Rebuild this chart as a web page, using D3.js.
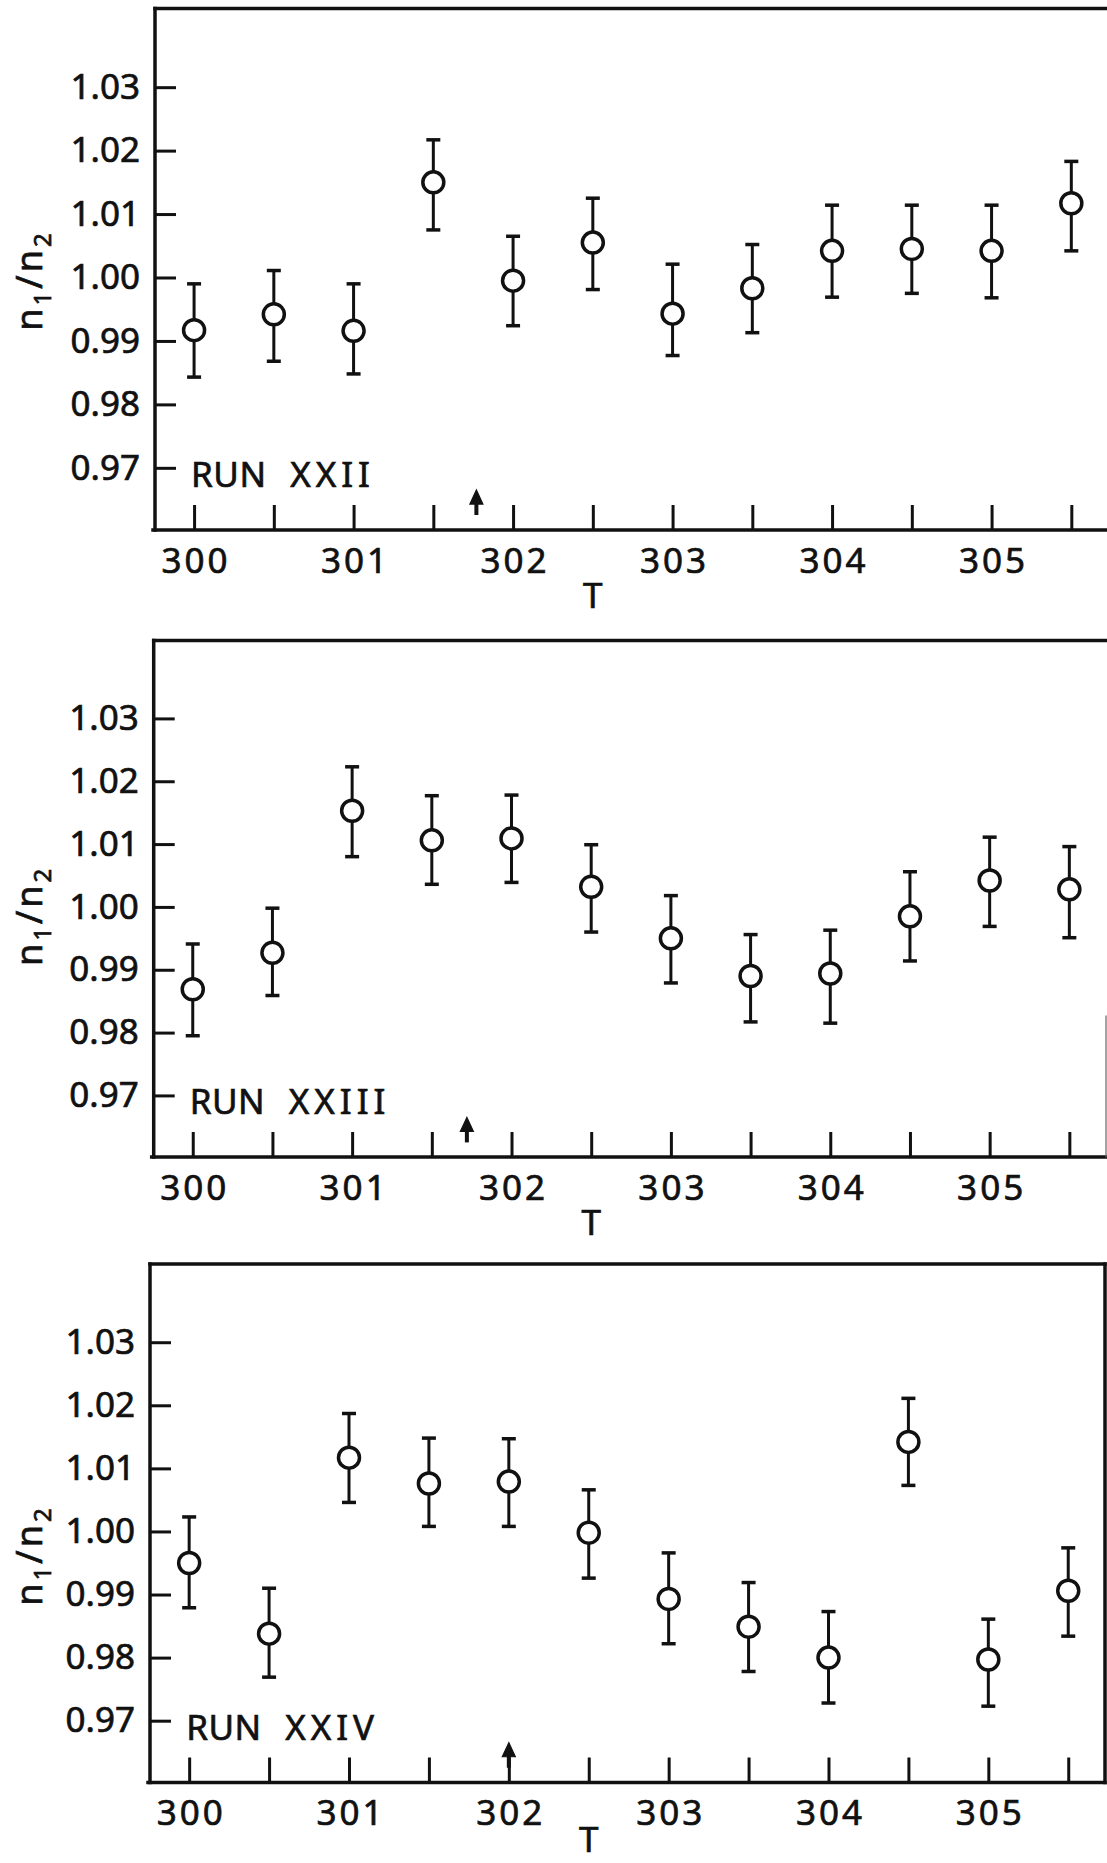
<!DOCTYPE html>
<html>
<head>
<meta charset="utf-8">
<script src="https://cdn.jsdelivr.net/npm/d3@7"></script>
<style>
  html, body { margin: 0; padding: 0; background: #fff; }
  svg { display: block; }
  text { font-family: "Noto Sans", "DejaVu Sans", sans-serif; fill: #111; stroke: #111; stroke-width: 0.7px; }
</style>
</head>
<body>
<svg id="chart" width="1107" height="1863"></svg>
<script>
// Temperatures at which n1/n2 was measured (every 0.5 K)
const temps = [300, 300.5, 301, 301.5, 302, 302.5, 303, 303.5, 304, 304.5, 305, 305.5];
const tLabels = [300, 301, 302, 303, 304, 305];
const ratioTicks = [0.97, 0.98, 0.99, 1.00, 1.01, 1.02, 1.03];
const ratioDomain = [0.9602, 1.0424];
const tDomain = [299.755, 305.73];

const runNames = ["RUN XXII", "RUN XXIII", "RUN XXIV"];
// Temperature marked with an arrow in each run
const markerT = [301.77, 301.72, 302.0];

// RUN XXII
const run22Ratio = [0.9917, 0.9942, 0.9916, 1.0150, 0.9995, 1.0055, 0.9943, 0.9983, 1.0042, 1.0045, 1.0042, 1.0117];
const run22Low   = [0.9843, 0.9868, 0.9848, 1.0075, 0.9924, 0.9981, 0.9877, 0.9913, 0.9969, 0.9975, 0.9968, 1.0042];
const run22High  = [0.9990, 1.0011, 0.9990, 1.0217, 1.0065, 1.0125, 1.0021, 1.0052, 1.0114, 1.0114, 1.0114, 1.0183];

// RUN XXIII
const run23Ratio = [0.9869, 0.9927, 1.0153, 1.0106, 1.0109, 1.0032, 0.9950, 0.9890, 0.9894, 0.9985, 1.0042, 1.0028];
const run23Low   = [0.9795, 0.9859, 1.0080, 1.0036, 1.0039, 0.9960, 0.9879, 0.9817, 0.9815, 0.9914, 0.9969, 0.9951];
const run23High  = [0.9941, 0.9998, 1.0223, 1.0177, 1.0178, 1.0099, 1.0018, 0.9956, 0.9963, 1.0056, 1.0111, 1.0096];

// RUN XXIV
const run24Ratio = [0.9950, 0.9838, 1.0117, 1.0076, 1.0079, 0.9998, 0.9893, 0.9849, 0.9800, 1.0142, 0.9797, 0.9906];
const run24Low   = [0.9879, 0.9769, 1.0046, 1.0008, 1.0008, 0.9926, 0.9822, 0.9778, 0.9728, 1.0073, 0.9723, 0.9834];
const run24High  = [1.0023, 0.9910, 1.0187, 1.0148, 1.0147, 1.0066, 0.9966, 0.9919, 0.9873, 1.0211, 0.9861, 0.9974];

const runs = [
  { ratio: run22Ratio, low: run22Low, high: run22High },
  { ratio: run23Ratio, low: run23Low, high: run23High },
  { ratio: run24Ratio, low: run24Low, high: run24High }
];

// Frame geometry of the three stacked panels
const panels = [
  { left: 155,   right: 1108, top: 8.5,   bottom: 530,    rightBorder: null,         labelShift: 3 },
  { left: 153.7, right: 1106, top: 640.5, bottom: 1157,   rightBorder: [1016, 1157], labelShift: 9 },
  { left: 150,   right: 1105, top: 1264,  bottom: 1782.5, rightBorder: "full",       labelShift: 24 }
];

const WIDTH = 1107, HEIGHT = 1863;
const INK = "#111";
const FONT = 35;
const FAMILY = "Noto Sans, DejaVu Sans, sans-serif";
const svg = d3.select("#chart");

panels.forEach((p, i) => {
  const run = runs[i];
  const x = d3.scaleLinear().domain(tDomain).range([p.left, p.right]);
  const y = d3.scaleLinear().domain(ratioDomain).range([p.bottom, p.top]);
  const g = svg.append("g");

  // y axis: inward ticks, labels on the left
  const yAxis = d3.axisLeft(y)
    .tickValues(ratioTicks)
    .tickSize(-21)
    .tickSizeOuter(0)
    .tickPadding(15)
    .tickFormat(d3.format(".2f"));
  const gy = g.append("g")
    .attr("transform", `translate(${p.left},0)`)
    .call(yAxis);
  gy.select(".domain").remove();
  gy.selectAll(".tick line").attr("stroke", INK).attr("stroke-width", 3);
  gy.selectAll(".tick text")
    .attr("font-size", FONT)
    .attr("font-family", FAMILY)
    .attr("fill", INK);

  // x axis: inward ticks at every half kelvin, labels at whole kelvins
  const xAxis = d3.axisBottom(x)
    .tickValues(temps)
    .tickSize(-25)
    .tickSizeOuter(0)
    .tickPadding(18)
    .tickFormat(d => Number.isInteger(d) ? String(d) : "");
  const gx = g.append("g")
    .attr("transform", `translate(0,${p.bottom})`)
    .call(xAxis);
  gx.select(".domain").remove();
  gx.selectAll(".tick line").attr("stroke", INK).attr("stroke-width", 3);
  gx.selectAll(".tick text")
    .attr("font-size", FONT)
    .attr("font-family", FAMILY)
    .attr("letter-spacing", 3)
    .attr("dx", 1.5)
    .attr("fill", INK);

  // frame lines
  const frame = g.append("g")
    .attr("stroke", INK)
    .attr("stroke-width", 3.5)
    .attr("stroke-linecap", "square")
    .attr("fill", "none");
  frame.append("line").attr("x1", p.left).attr("x2", p.left).attr("y1", p.top).attr("y2", p.bottom);
  frame.append("line").attr("x1", p.left - 2).attr("x2", p.right).attr("y1", p.bottom).attr("y2", p.bottom);
  frame.append("line").attr("x1", p.left).attr("x2", p.right).attr("y1", p.top).attr("y2", p.top);
  if (p.rightBorder === "full") {
    frame.append("line").attr("x1", p.right).attr("x2", p.right).attr("y1", p.top).attr("y2", p.bottom);
  } else if (p.rightBorder) {
    frame.append("line").attr("x1", p.right).attr("x2", p.right)
      .attr("y1", p.rightBorder[0]).attr("y2", p.rightBorder[1])
      .attr("stroke", "#666")
      .attr("stroke-width", 1.2);
  }

  // axis titles
  const yl = g.append("text")
    .attr("transform", `translate(42,${y(1.0) + p.labelShift}) rotate(-90)`)
    .attr("text-anchor", "middle")
    .attr("font-size", 36)
    .attr("letter-spacing", 3);
  yl.append("tspan").text("n");
  yl.append("tspan").attr("font-size", 24).attr("dy", 9).text("1");
  yl.append("tspan").attr("dy", -9).text("/");
  yl.append("tspan").text("n");
  yl.append("tspan").attr("font-size", 24).attr("dy", 9).text("2");

  // T title, kept inside the page at the bottom panel
  g.append("text")
    .attr("x", x(302.5))
    .attr("y", Math.min(p.bottom + 78, HEIGHT - 11))
    .attr("text-anchor", "middle")
    .attr("font-size", FONT)
    .text("T");

  // run name
  const [word, numeral] = runNames[i].split(" ");
  const rn = g.append("text")
    .attr("x", x(300) - 3)
    .attr("y", y(0.97) + 19)
    .attr("font-size", FONT);
  rn.append("tspan").attr("letter-spacing", 0.5).text(word + " ");
  rn.append("tspan").attr("dx", 14).attr("letter-spacing", 5).text(numeral);

  // arrow marking the transition temperature
  const ax = x(markerT[i]);
  const tipY = y(0.9665);
  const arrow = g.append("g").attr("fill", INK).attr("stroke", INK);
  arrow.append("line")
    .attr("x1", ax).attr("x2", ax)
    .attr("y1", tipY + 10).attr("y2", tipY + 25)
    .attr("stroke-width", 4);
  arrow.append("path")
    .attr("d", `M${ax},${tipY} L${ax - 6.5},${tipY + 14} L${ax + 6.5},${tipY + 14} Z`)
    .attr("stroke-width", 1.2);

  // error bars
  const pts = temps.map((t, k) => ({ t, r: run.ratio[k], lo: run.low[k], hi: run.high[k] }));
  const eb = g.append("g").attr("stroke", INK).attr("fill", "none");
  eb.selectAll("line.bar").data(pts).join("line").attr("class", "bar")
    .attr("x1", d => x(d.t)).attr("x2", d => x(d.t))
    .attr("y1", d => y(d.lo)).attr("y2", d => y(d.hi))
    .attr("stroke-width", 3);
  eb.selectAll("line.capHi").data(pts).join("line").attr("class", "capHi")
    .attr("x1", d => x(d.t) - 7).attr("x2", d => x(d.t) + 7)
    .attr("y1", d => y(d.hi)).attr("y2", d => y(d.hi))
    .attr("stroke-width", 3.5);
  eb.selectAll("line.capLo").data(pts).join("line").attr("class", "capLo")
    .attr("x1", d => x(d.t) - 7).attr("x2", d => x(d.t) + 7)
    .attr("y1", d => y(d.lo)).attr("y2", d => y(d.lo))
    .attr("stroke-width", 3.5);

  // open circles
  g.append("g").selectAll("circle").data(pts).join("circle")
    .attr("cx", d => x(d.t))
    .attr("cy", d => y(d.r))
    .attr("r", 10.5)
    .attr("fill", "#fff")
    .attr("stroke", INK)
    .attr("stroke-width", 3.5);
});
</script>
</body>
</html>
